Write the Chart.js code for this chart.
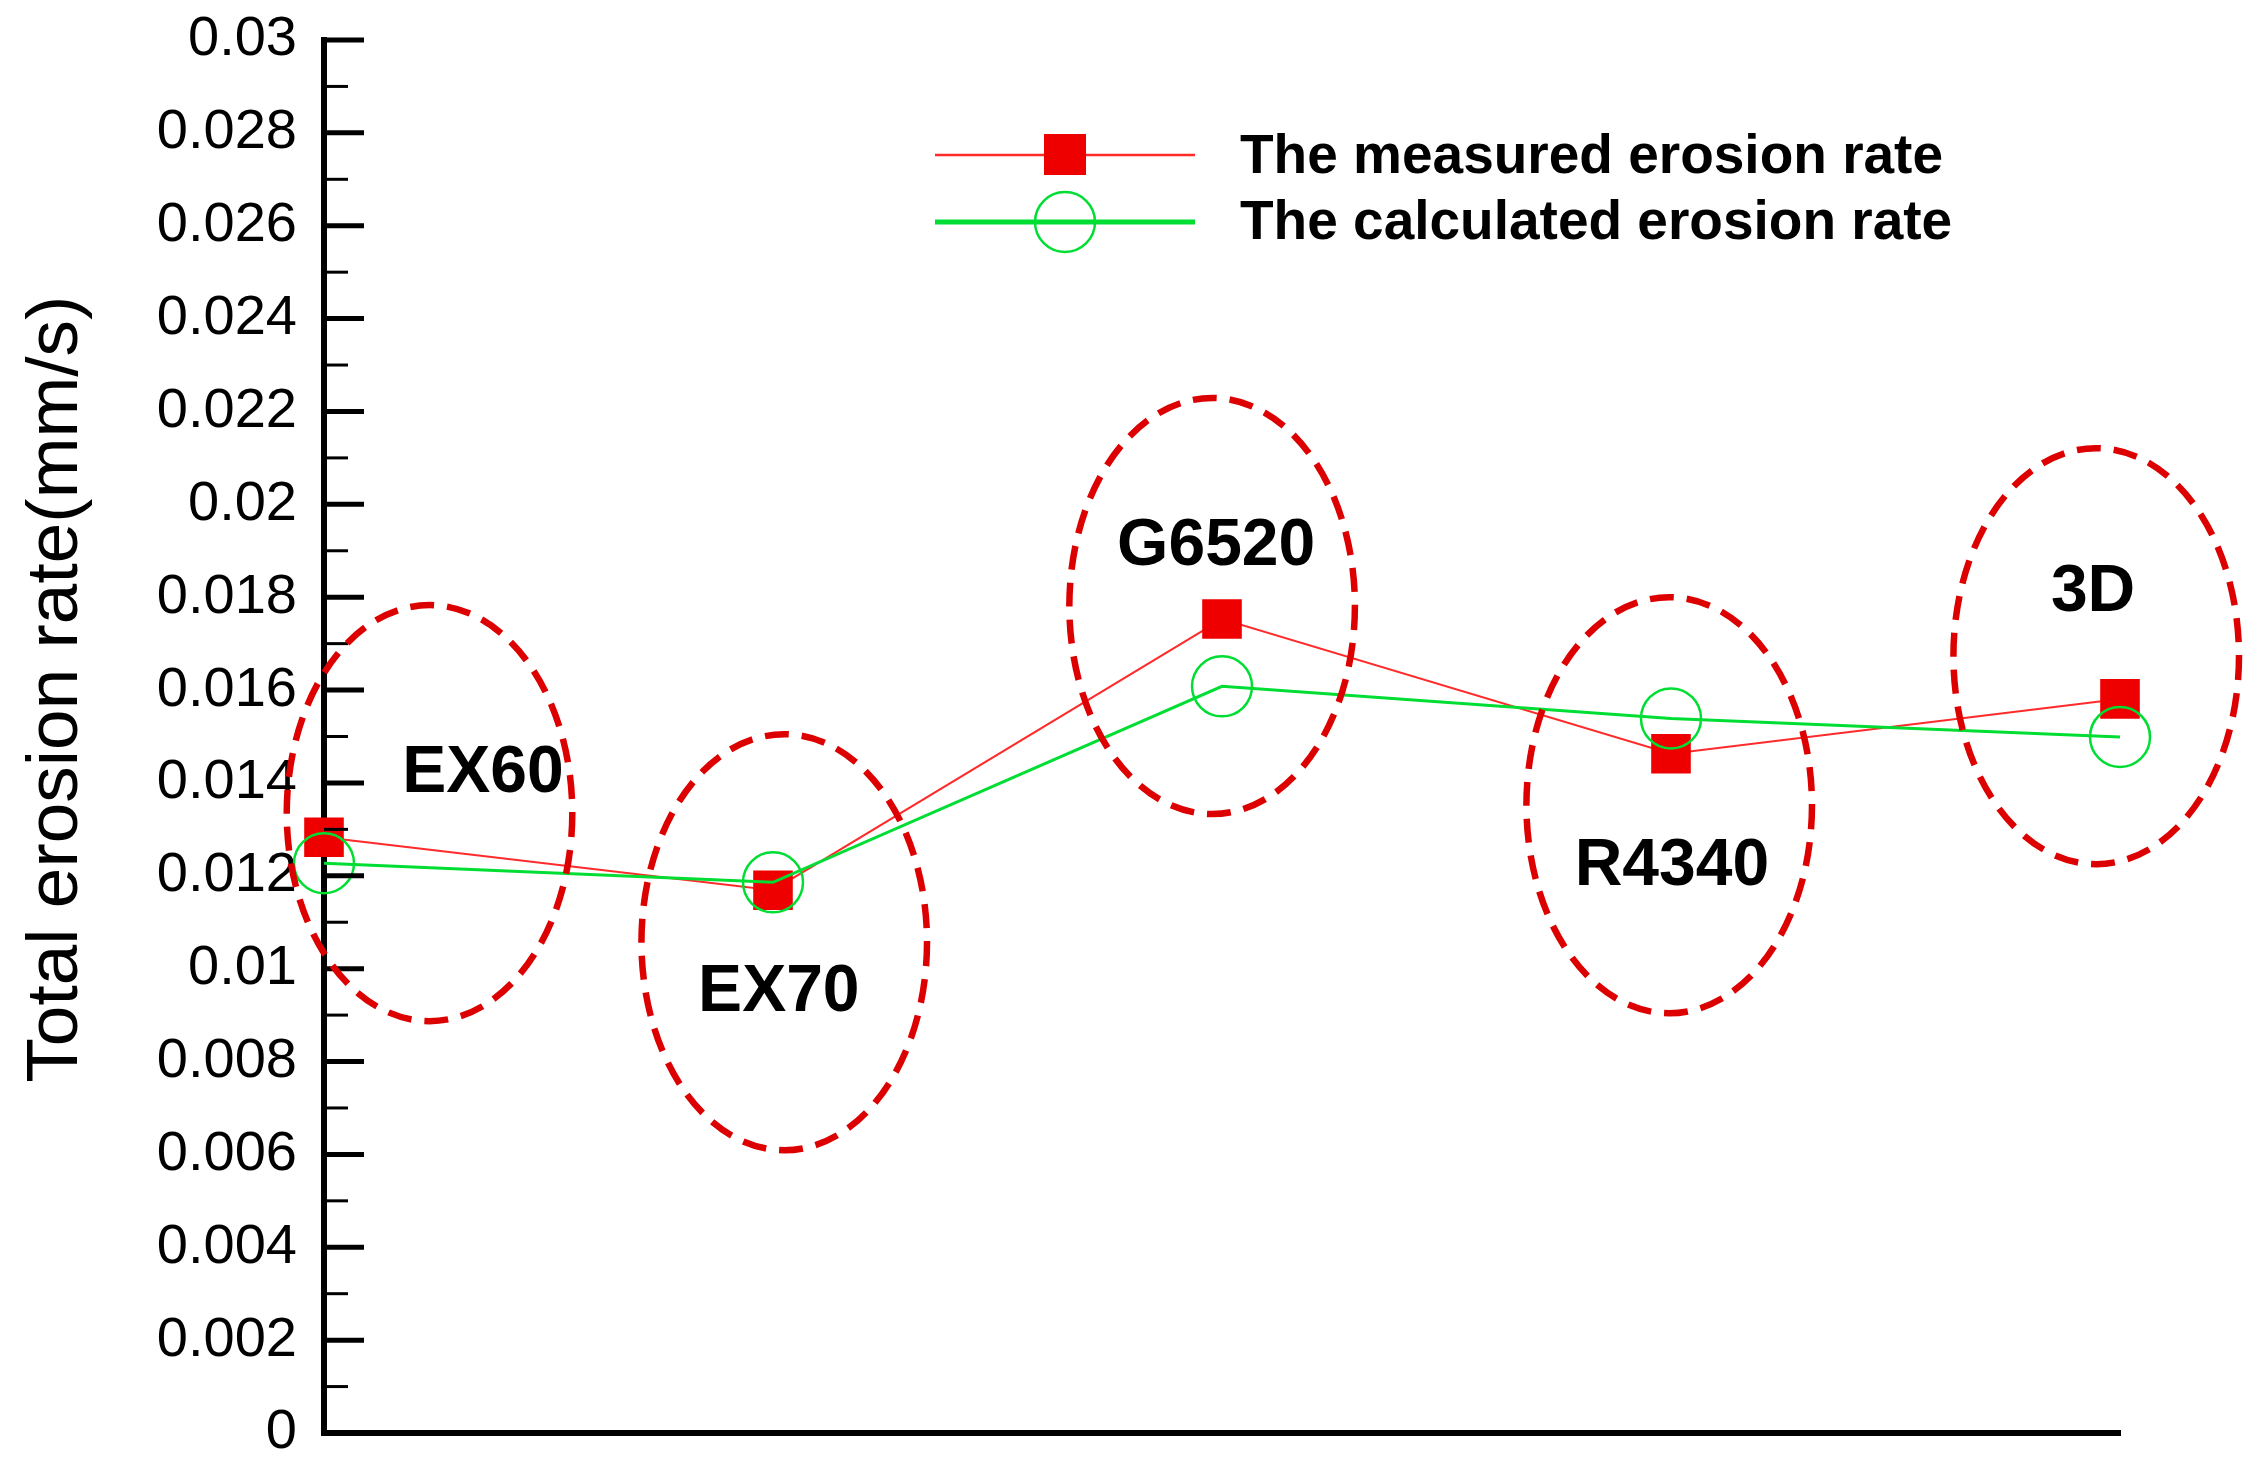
<!DOCTYPE html>
<html>
<head>
<meta charset="utf-8">
<script src="https://cdn.jsdelivr.net/npm/chart.js@4.4.0/dist/chart.umd.min.js"></script>
<style>
    html, body { margin: 0; padding: 0; background: #fff; }
    #wrap { width: 2266px; height: 1469px; }
</style>
</head>
<body>
<div id="wrap"><canvas id="erosionChart" width="2266" height="1469"></canvas></div>
<script>
// Materials along the x axis
const materials = ['EX60', 'EX70', 'G6520', 'R4340', '3D'];

// Erosion rate (mm/s)
const measuredRate = [0.01283, 0.01169, 0.01753, 0.01463, 0.01581];
const calculatedRate = [0.01227, 0.01186, 0.01608, 0.01539, 0.01499];

const seriesNames = ['The measured erosion rate', 'The calculated erosion rate'];
const yTitle = 'Total erosion rate(mm/s)';

const yTicks = [0, 0.002, 0.004, 0.006, 0.008, 0.01, 0.012, 0.014,
    0.016, 0.018, 0.02, 0.022, 0.024, 0.026, 0.028, 0.03];
const yTickLabels = ['0', '0.002', '0.004', '0.006', '0.008', '0.01', '0.012', '0.014',
    '0.016', '0.018', '0.02', '0.022', '0.024', '0.026', '0.028', '0.03'];

// Dashed group ellipses and their labels, in axis units (category index, rate)
const groupX = [0.235, 1.025, 1.978, 2.996, 3.947];
const groupY = [0.01335, 0.01057, 0.01781, 0.01352, 0.01673];
const groupLabelX = [0.354, 1.013, 1.987, 3.002, 3.940];
const groupLabelY = [0.01419, 0.00947, 0.01908, 0.01219, 0.01809];

const RED = '#ee0000';
const RED_LINE = '#ff2a2a';
const GREEN = '#00dd33';
const ELLIPSE_RED = '#dd0000';
const FONT = '"Liberation Sans", Arial, sans-serif';

const decorations = {
    id: 'decorations',
    afterDatasetsDraw(chart) {
        const { ctx, chartArea, scales: { x, y } } = chart;
        ctx.save();

        // inward major / minor ticks on the y axis
        ctx.strokeStyle = '#000';
        yTicks.forEach((v, i) => {
            const py = y.getPixelForValue(v);
            ctx.lineWidth = 5;
            ctx.beginPath();
            ctx.moveTo(chartArea.left, py);
            ctx.lineTo(chartArea.left + 40, py);
            ctx.stroke();
            if (i < yTicks.length - 1) {
                const pm = y.getPixelForValue((v + yTicks[i + 1]) / 2);
                ctx.lineWidth = 3;
                ctx.beginPath();
                ctx.moveTo(chartArea.left, pm);
                ctx.lineTo(chartArea.left + 24, pm);
                ctx.stroke();
            }
        });

        // dashed ellipses round each material
        ctx.strokeStyle = ELLIPSE_RED;
        ctx.lineWidth = 6.5;
        ctx.setLineDash([24, 13]);
        groupX.forEach((gx, i) => {
            const cx = x.getPixelForValue(gx);
            const cy = y.getPixelForValue(groupY[i]);
            const rx = x.getPixelForValue(gx + 0.318) - cx;
            const ry = cy - y.getPixelForValue(groupY[i] + 0.00448);
            ctx.beginPath();
            ctx.ellipse(cx, cy, rx, ry, 0, 0, Math.PI * 2);
            ctx.stroke();
        });
        ctx.setLineDash([]);

        // material labels
        ctx.fillStyle = '#000';
        ctx.font = 'bold 66px ' + FONT;
        ctx.textAlign = 'center';
        ctx.textBaseline = 'middle';
        materials.forEach((name, i) => {
            ctx.fillText(name,
                x.getPixelForValue(groupLabelX[i]),
                y.getPixelForValue(groupLabelY[i]));
        });
        ctx.restore();
    },
    afterDraw(chart) {
        const { ctx, chartArea } = chart;
        ctx.save();

        // y axis title
        ctx.translate(57, chartArea.top + (chartArea.bottom - chartArea.top) * 0.466);
        ctx.rotate(-Math.PI / 2);
        ctx.fillStyle = '#000';
        ctx.font = '73px ' + FONT;
        ctx.textAlign = 'center';
        ctx.textBaseline = 'middle';
        ctx.fillText(yTitle, 0, 0);
        ctx.restore();

        // legend
        ctx.save();
        const lx0 = chartArea.left + 611, lx1 = chartArea.left + 871;
        const mx = (lx0 + lx1) / 2;
        const ly0 = chartArea.top + 115, ly1 = chartArea.top + 182;

        ctx.strokeStyle = RED_LINE;
        ctx.lineWidth = 2.5;
        ctx.beginPath();
        ctx.moveTo(lx0, ly0);
        ctx.lineTo(lx1, ly0);
        ctx.stroke();
        ctx.fillStyle = RED;
        ctx.fillRect(mx - 21, ly0 - 21, 42, 41);

        ctx.strokeStyle = GREEN;
        ctx.lineWidth = 5;
        ctx.beginPath();
        ctx.moveTo(lx0, ly1);
        ctx.lineTo(lx1, ly1);
        ctx.stroke();
        ctx.lineWidth = 2.5;
        ctx.beginPath();
        ctx.arc(mx, ly1, 30, 0, Math.PI * 2);
        ctx.stroke();

        ctx.fillStyle = '#000';
        ctx.font = 'bold 55px ' + FONT;
        ctx.textAlign = 'left';
        ctx.textBaseline = 'alphabetic';
        ctx.fillText(seriesNames[0], chartArea.left + 916, ly0 + 18);
        ctx.fillText(seriesNames[1], chartArea.left + 916, ly1 + 17);
        ctx.restore();
    }
};

document.addEventListener('DOMContentLoaded', () => {
    const ctx = document.getElementById('erosionChart').getContext('2d');
    new Chart(ctx, {
        type: 'line',
        data: {
            labels: materials,
            datasets: [{
                label: seriesNames[0],
                data: measuredRate,
                borderColor: RED_LINE,
                borderWidth: 2,
                pointStyle: 'rect',
                pointRadius: 28,
                pointBackgroundColor: RED,
                pointBorderColor: RED,
                pointBorderWidth: 0,
                tension: 0,
                clip: false,
                order: 1
            }, {
                label: seriesNames[1],
                data: calculatedRate,
                borderColor: GREEN,
                borderWidth: 3,
                pointStyle: 'circle',
                pointRadius: 30,
                pointBackgroundColor: 'rgba(0,0,0,0)',
                pointBorderColor: GREEN,
                pointBorderWidth: 2.5,
                tension: 0,
                clip: false,
                order: 0
            }]
        },
        options: {
            responsive: false,
            devicePixelRatio: 1,
            animation: false,
            layout: { padding: { top: 40, right: 146, bottom: 0, left: 0 } },
            plugins: {
                legend: { display: false },
                tooltip: { enabled: false }
            },
            scales: {
                x: {
                    type: 'category',
                    offset: false,
                    afterFit: s => {
                        s.height = 36;
                        s.paddingLeft = 0;
                        s.paddingRight = 0;
                    },
                    grid: { display: false, drawTicks: false },
                    border: { display: true, color: '#000', width: 6 },
                    ticks: { display: false }
                },
                y: {
                    min: 0,
                    max: 0.03,
                    afterBuildTicks: s => { s.ticks = yTicks.map(v => ({ value: v })); },
                    afterFit: s => {
                        s.width = 324;
                        s.paddingTop = 0;
                        s.paddingBottom = 0;
                    },
                    grid: { display: false, drawTicks: false },
                    border: { display: true, color: '#000', width: 6 },
                    ticks: {
                        autoSkip: false,
                        padding: 27,
                        color: '#000',
                        font: { family: FONT, size: 56 },
                        callback: (v, i) => yTickLabels[i]
                    }
                }
            }
        },
        plugins: [decorations]
    });
});
</script>
</body>
</html>
